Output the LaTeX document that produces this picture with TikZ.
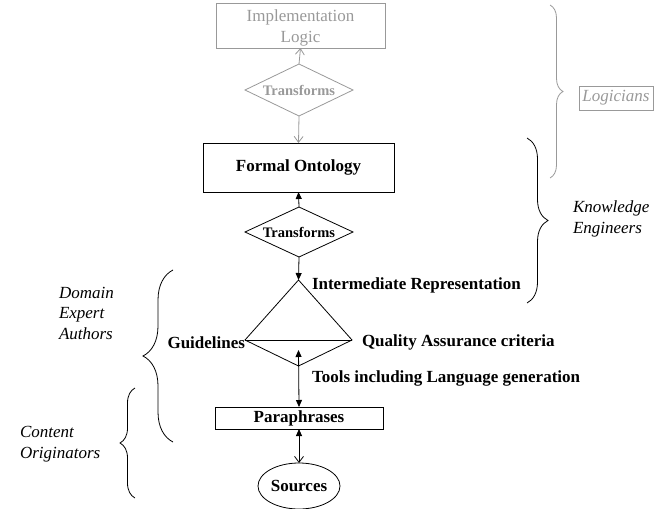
\documentclass[tikz,border=0pt]{standalone}
\usepackage{fontspec}
\setmainfont{Liberation Serif}
\usetikzlibrary{arrows.meta,shapes.geometric,decorations.pathreplacing}
\definecolor{lg}{HTML}{999999}
\begin{document}
\begin{tikzpicture}[x=1pt,y=-1pt,
  every node/.style={inner sep=0pt, outer sep=0pt},
  mainfont/.style={font=\fontsize{17}{20.5}\selectfont},
  boldfont/.style={font=\fontsize{17}{19.5}\selectfont\bfseries},
  itfont/.style={font=\fontsize{17}{20.5}\selectfont\itshape, align=left},
  box/.style={draw, line width=0.8pt, rectangle},
  dia/.style={draw, line width=0.8pt, diamond, shape aspect=2.2, font=\fontsize{14.5}{17}\selectfont\bfseries},
  link/.style={line width=0.8pt},
  fhead/.style={-{Triangle[length=7pt,width=6pt]}},
  ohead/.style={-{Straight Barb[length=6pt,width=9pt,line width=0.8pt]}},
  bracestyle/.style={decorate, decoration={brace, amplitude=#1}, line width=0.8pt}
]
\useasboundingbox (0,0) rectangle (668,508);

% Implementation Logic
\node[box, draw=lg, minimum width=169pt, minimum height=45pt] (impl) at (300.5,25.5) {};
\node[mainfont, text=lg, align=center] (impltxt) at (300.5,28) {Implementation\\Logic};
\node[dia, draw=lg, text=lg, minimum width=108pt, minimum height=52pt] (tr1) at (299,90) {Transforms};
\node[box, boldfont, minimum width=191pt, minimum height=49pt] (formal) at (298.5,167.5) {Formal Ontology};
\node[dia, minimum width=108pt, minimum height=50pt] (tr2) at (299,232) {Transforms};

% triangle
\coordinate (apex) at (298.5,280);
\coordinate (bl) at (245,340);
\coordinate (br) at (352,340);
\coordinate (bot) at (298.5,366);
\draw[link, line join=miter] (apex) -- (bl) -- (bot) -- (br) -- cycle;
\draw[link] (bl) -- (br);

\node[boldfont, anchor=west] (ir) at (312,285) {Intermediate Representation};
\node[boldfont, anchor=east] (guide) at (245,343) {Guidelines};
\node[boldfont, anchor=west] (qa) at (362,342) {Quality Assurance criteria};
\node[boldfont, anchor=west] (tools) at (312,378) {Tools including Language generation};

\node[box, boldfont, minimum width=168pt, minimum height=22pt] (para) at (299,418) {Paraphrases};
\node[draw, ellipse, line width=0.8pt, boldfont, minimum width=82pt, minimum height=46pt] (src) at (299,486) {Sources};

% connectors
\draw[link, draw=lg, ohead] (tr1.north) -- (impl.south);
\draw[link, draw=lg, ohead] (tr1.south) -- (formal.north);
\draw[link, fhead] (tr2.north) -- (formal.south);
\draw[link, fhead] (tr2.south) -- (apex);
\coordinate (toolstop) at (298.5,350);
\draw[link, {Triangle[length=7pt,width=6pt]}-{Triangle[length=7pt,width=6pt]}] (toolstop) -- (para.north);
\draw[link, {Triangle[length=7pt,width=6pt]}-{Straight Barb[length=6pt,width=9pt,line width=0.8pt]}] (para.south) -- (src.north);

% braces
\coordinate (lgA) at (550,5);
\coordinate (lgB) at (550,178);
\draw[bracestyle=13pt, draw=lg] (lgA) -- (lgB);
\node[draw=lg, line width=0.8pt, text=lg, font=\fontsize{17}{20}\selectfont\itshape, minimum width=74pt, minimum height=24pt] (logic) at (616,98) {Logicians};

\coordinate (keA) at (527,138);
\coordinate (keB) at (527,303);
\draw[bracestyle=21pt] (keA) -- (keB);
\node[itfont, anchor=west] (ke) at (573,219) {Knowledge\\Engineers};

\coordinate (daA) at (173,442);
\coordinate (daB) at (173,270);
\draw[bracestyle=30pt] (daA) -- (daB);
\node[itfont, anchor=west] (da) at (59,313) {Domain\\Expert\\Authors};

\coordinate (coA) at (135,498);
\coordinate (coB) at (135,388);
\draw[bracestyle=15pt] (coA) -- (coB);
\node[itfont, anchor=west] (co) at (20,444) {Content\\Originators};
\end{tikzpicture}
\end{document}
